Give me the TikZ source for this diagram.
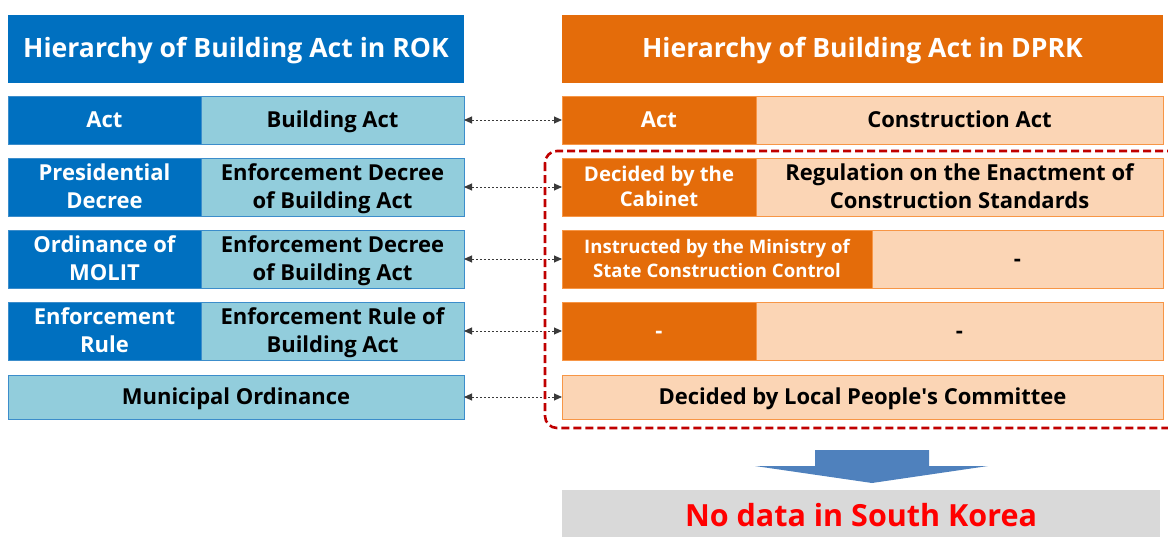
\documentclass[tikz,border=0pt]{standalone}
\usepackage{fontspec}
\setmainfont{Open Sans}
\usetikzlibrary{arrows.meta}

\definecolor{rokdark}{HTML}{0070C0}
\definecolor{roklight}{HTML}{92CDDC}
\definecolor{rokline}{HTML}{3C8DCB}
\definecolor{dprkdark}{HTML}{E46C0A}
\definecolor{dprklight}{HTML}{FBD5B5}
\definecolor{dprkline}{HTML}{F79646}
\definecolor{framered}{HTML}{C00000}
\definecolor{bigarrow}{HTML}{4F81BD}
\definecolor{notegrey}{HTML}{D9D9D9}
\definecolor{linkgrey}{HTML}{3A3A3A}

\tikzset{
  cell/.style={inner sep=0pt, outer sep=0pt, align=center,
    font=\bfseries\fontsize{22}{28}\selectfont},
  % fixed text boxes keep the cap height centred in each cell
  oneline/.style={text height=15.7pt, text depth=0pt},
  twoline/.style={text height=43.7pt, text depth=0pt},
  smallcell/.style={font=\bfseries\fontsize{20.3}{25}\selectfont,
    text height=39.5pt, text depth=0pt},
  tinycell/.style={font=\bfseries\fontsize{18.6}{24}\selectfont,
    text height=37.3pt, text depth=0pt},
  header/.style={cell, font=\bfseries\fontsize{26.6}{30}\selectfont, text=white,
    text height=17pt, text depth=0pt},
  rokdk/.style={cell, fill=rokdark, draw=rokline, line width=0.8pt, text=white},
  roklt/.style={cell, fill=roklight, draw=rokline, line width=0.8pt, text=black},
  dprkdk/.style={cell, fill=dprkdark, draw=dprkline, line width=0.8pt, text=white},
  dprklt/.style={cell, fill=dprklight, draw=dprkline, line width=0.8pt, text=black},
  link/.style={linkgrey, line width=0.9pt, dash pattern=on 2.5pt off 1.5pt,
    {Triangle[length=8pt,width=7pt]}-{Triangle[length=8pt,width=7pt]}},
}

\begin{document}
\begin{tikzpicture}[x=1pt, y=-1pt]
\useasboundingbox (0,0) rectangle (1168,536);

% headers
\node[header, fill=rokdark, minimum width=456pt, minimum height=68pt] (hl) at (236,49) {Hierarchy of Building Act in ROK};
\node[header, fill=dprkdark, minimum width=601pt, minimum height=68pt] (hr) at (862.5,49) {Hierarchy of Building Act in DPRK};

% ROK rows
\node[rokdk, oneline, minimum width=193pt, minimum height=48pt] (l1a) at (104.5,120) {Act};
\node[roklt, oneline, minimum width=263pt, minimum height=48pt] (l1b) at (332.5,120) {Building Act};

\node[rokdk, twoline, minimum width=193pt, minimum height=58pt] (l2a) at (104.5,187) {Presidential\\Decree};
\node[roklt, twoline, minimum width=263pt, minimum height=58pt] (l2b) at (332.5,187) {Enforcement Decree\\of Building Act};

\node[rokdk, twoline, minimum width=193pt, minimum height=58pt] (l3a) at (104.5,259) {Ordinance of\\MOLIT};
\node[roklt, twoline, minimum width=263pt, minimum height=58pt] (l3b) at (332.5,259) {Enforcement Decree\\of Building Act};

\node[rokdk, twoline, minimum width=193pt, minimum height=58pt] (l4a) at (104.5,331) {Enforcement\\Rule};
\node[roklt, twoline, minimum width=263pt, minimum height=58pt] (l4b) at (332.5,331) {Enforcement Rule of\\Building Act};

\node[roklt, oneline, minimum width=456pt, minimum height=44pt] (l5) at (236,397) {Municipal Ordinance};

% DPRK rows
\node[dprkdk, oneline, minimum width=194pt, minimum height=48pt] (r1a) at (659,120) {Act};
\node[dprklt, oneline, minimum width=407pt, minimum height=48pt] (r1b) at (959.5,120) {Construction Act};

\node[dprkdk, smallcell, minimum width=194pt, minimum height=58pt] (r2a) at (659,187) {Decided by the\\Cabinet};
\node[dprklt, twoline, minimum width=407pt, minimum height=58pt] (r2b) at (959.5,187) {Regulation on the Enactment of\\Construction Standards};

\node[dprkdk, tinycell, minimum width=310pt, minimum height=58pt] (r3a) at (717,259) {Instructed by the Ministry of\\State Construction Control};
\node[dprklt, oneline, minimum width=291pt, minimum height=58pt] (r3b) at (1017.5,259) {-};

\node[dprkdk, oneline, minimum width=194pt, minimum height=58pt] (r4a) at (659,331) {-};
\node[dprklt, oneline, minimum width=407pt, minimum height=58pt] (r4b) at (959.5,331) {-};

\node[dprklt, oneline, minimum width=601pt, minimum height=44pt] (r5) at (862.5,397) {Decided by Local People\textquotesingle s Committee};

% correspondence links
\draw[link] (l1b.east) -- (r1a.west);
\draw[link] (l2b.east) -- (r2a.west);
\draw[link] (l3b.east) -- (r3a.west);
\draw[link] (l4b.east) -- (r4a.west);
\draw[link] (l5.east) -- (r5.west);

% dashed frame around the lower DPRK levels
\draw[framered, line width=2.6pt, dash pattern=on 8pt off 4pt, rounded corners=12pt]
  (545,151) rectangle (1185,428);

% downward arrow
\fill[bigarrow] (815,450) -- (929,450) -- (929,466) -- (988,466) -- (872,483)
  -- (755,466) -- (815,466) -- cycle;

% note box
\node[cell, fill=notegrey, minimum width=598pt, minimum height=52pt,
  font=\bfseries\fontsize{30.5}{34}\selectfont, text=red,
  text height=20pt, text depth=0pt] (nodata) at (861,516) {No data in South Korea};

\end{tikzpicture}
\end{document}
